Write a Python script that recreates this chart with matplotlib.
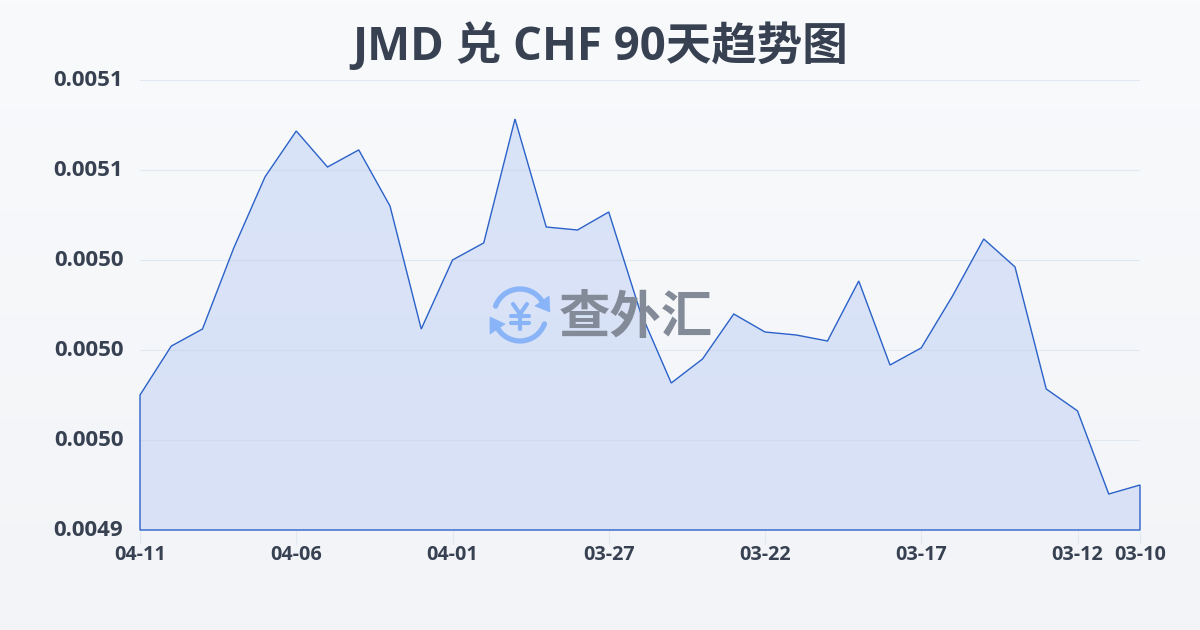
import numpy as np
import matplotlib
matplotlib.use("Agg")
import matplotlib.pyplot as plt
from matplotlib.patches import Arc, Polygon
from matplotlib.colors import LinearSegmentedColormap
from matplotlib.transforms import ScaledTranslation

plt.rcParams['font.family'] = ['Open Sans', 'Noto Sans CJK SC', 'DejaVu Sans']

title = "JMD 兑 CHF 90天趋势图"
dates = ["04-11","04-10","04-09","04-08","04-07","04-06","04-05","04-04","04-03","04-02","04-01",
         "03-31","03-30","03-29","03-28","03-27","03-26","03-25","03-24","03-23","03-22","03-21",
         "03-20","03-19","03-18","03-17","03-16","03-15","03-14","03-13","03-12","03-11","03-10"]
values = [0.004985,0.0050013,0.005007,0.005034,0.0050577,0.005073,0.005061,0.0050667,0.005048,0.005007,
          0.005030,0.0050357,0.005077,0.005041,0.005040,0.005046,0.005013,0.004989,0.004997,0.005012,
          0.005006,0.005005,0.005003,0.005023,0.004995,0.0050007,0.005018,0.005037,0.0050277,0.004987,
          0.0049797,0.004952,0.004955]
y_ticks = [0.00494,0.00497,0.00500,0.00503,0.00506,0.00509]
y_labels = ["0.0049","0.0050","0.0050","0.0050","0.0051","0.0051"]
x_tick_idx = [0,5,10,15,20,25,30,32]

W, H = 1200, 630
fig = plt.figure(figsize=(W/100, H/100), dpi=100)

bg = fig.add_axes([0,0,1,1], zorder=0)
bg.axis('off')
cm_bg = LinearSegmentedColormap.from_list('bg', ['#f8fafc', '#f2f4f7'])
yy, xx = np.mgrid[0:1:200j, 0:1:200j]
bg.imshow(yy, cmap=cm_bg, aspect='auto', extent=[0,1,1,0])

ax = fig.add_axes([140/W, 1-530/H, 1000/W, 450/H], zorder=1)
ax.patch.set_alpha(0)
x = np.arange(len(values))
for s in ax.spines.values():
    s.set_visible(False)

ax.set_yticks(y_ticks, y_labels)
ax.set_xticks([x[i] for i in x_tick_idx], [dates[i] for i in x_tick_idx])
ax.tick_params(axis='y', length=0, pad=12, labelsize=16, labelcolor='#374151')
ax.tick_params(axis='x', length=10, width=0.8, color='#e2e8f0', pad=1, labelsize=14.2, labelcolor='#374151')
for t in ax.get_xticklabels()+ax.get_yticklabels():
    t.set_fontweight('bold')
shift = ScaledTranslation(0, 1.5/72, fig.dpi_scale_trans)
for t in ax.get_yticklabels():
    t.set_transform(t.get_transform() + shift)
ax.grid(axis='y', color='#e2e8f0', lw=0.8, zorder=1)
ax.set_axisbelow(True)

cm_fill = LinearSegmentedColormap.from_list('f', ['#d9e4f8', '#d8e1f5'])
img = ax.imshow(np.linspace(0,1,256).reshape(-1,1), cmap=cm_fill, aspect='auto', alpha=0.97,
                extent=[0,len(values)-1,y_ticks[0],y_ticks[-1]], origin='upper', zorder=2)
ax.set_xlim(0, len(values)-1); ax.set_ylim(y_ticks[0], y_ticks[-1])
poly = Polygon(np.column_stack([np.r_[x,x[-1],0], np.r_[values,y_ticks[0],y_ticks[0]]]),
               closed=True, fc='none', ec='#2b62c9', lw=1.0, zorder=4, clip_on=False)
clip = Polygon(poly.get_xy(), closed=True, transform=ax.transData, fc='none', ec='none')
ax.add_patch(clip)
img.set_clip_path(clip)
ax.add_patch(poly)
# gridlines stay faintly visible through the fill
for v in y_ticks:
    ax.axhline(v, color='#cfdaef', lw=0.8, zorder=3).set_clip_path(clip)

fig.text(600/W, 1-47/H, title, ha='center', va='center', fontsize=32.8, fontweight='bold', color='#374151', zorder=5)

# watermark
ov = fig.add_axes([0,0,1,1], zorder=3)
ov.set_xlim(0,W); ov.set_ylim(H,0); ov.axis('off'); ov.patch.set_alpha(0)
blue = '#8ab4f8'
cx, cy, r = 520, 315, 26
ov.add_patch(Arc((cx,cy),2*r,2*r,theta1=200,theta2=335,lw=3.8,color=blue,capstyle='round'))
ov.add_patch(Arc((cx,cy),2*r,2*r,theta1=20,theta2=155,lw=3.8,color=blue,capstyle='round'))
ov.add_patch(Polygon([[549,296],[550,312],[535,306]],closed=True,fc=blue,ec=blue,lw=0.5))
ov.add_patch(Polygon([[490,334],[490,317],[505,324]],closed=True,fc=blue,ec=blue,lw=0.5))
ov.plot([513,520,527],[304,314,304],color=blue,lw=3,solid_capstyle='round')
ov.plot([520,520],[314,329],color=blue,lw=3,solid_capstyle='round')
ov.plot([511,529],[316,316],color=blue,lw=3,solid_capstyle='round')
ov.plot([511,529],[323,323],color=blue,lw=3,solid_capstyle='round')
ov.set_xlim(0,W); ov.set_ylim(H,0)
ov.text(636,320,"查外汇",ha='center',va='center',fontsize=37,fontweight='bold',color='#848b98')

fig.savefig('out.png', dpi=100)
